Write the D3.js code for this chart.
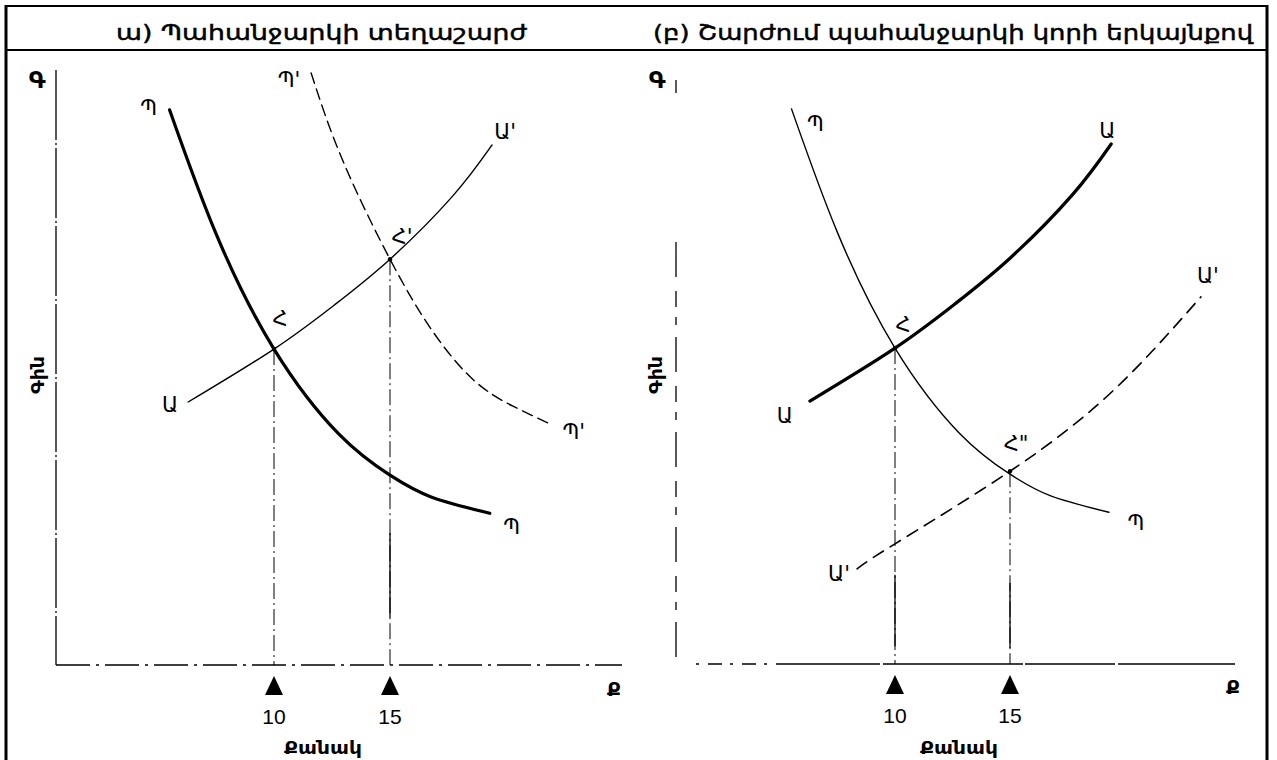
<!DOCTYPE html>
<html>
<head>
<meta charset="utf-8">
<script src="https://cdn.jsdelivr.net/npm/d3@7/dist/d3.min.js"></script>
<style>
  body { margin: 0; background: #fff; }
  svg { display: block; }
  .arm { font-family: "DejaVu Sans", "Noto Sans", sans-serif; fill: #000; }
  .num { font-family: "Liberation Sans Narrow", "Liberation Sans", Arial, sans-serif; fill: #000; }
</style>
</head>
<body>
<div id="chart"></div>
<script>
// values: quantity (x) and price (y, 0..100)
var demandQ  = [5.5, 7.5, 10, 12.8, 15, 16.8, 19.3];
var demandP  = [93.3, 72.5, 53.1, 38.8, 31.9, 28.2, 25.5];
var demand2Q = [11.6, 12.95, 15, 16.8, 18.6, 20.3, 21.8];
var demand2P = [99.5, 84.9, 68.2, 56.3, 47.9, 43.5, 40.7];
var supplyQ  = [6.3, 10, 12.6, 15, 17.7, 19.4];
var supplyP  = [44.2, 53.1, 60.5, 68.2, 78.8, 87.4];
var supply2Q = [8.35, 10, 15, 19.5, 23.3];
var supply2P = [16, 20.2, 32.4, 46, 61.7];

var eqLeftQ  = [10, 15];
var eqLeftP  = [53.1, 68.2];
var eqRightQ = [10, 15];
var eqRightP = [53.1, 32.4];
var eqLeftNames  = ["Հ", "Հ'"];
var eqRightNames = ["Հ", "Հ\""];

var tickValues = [10, 15];
var tickLabels = ["10", "15"];

var titles = ["ա) Պահանջարկի տեղաշարժ", "(բ) Շարժում պահանջարկի կորի երկայնքով"];
var priceLetter = "Գ";
var priceName = "Գին";
var qtyLetter = "Ք";
var qtyName = "Քանակ";

var svgWidth = 1277;
var svgHeight = 760;

var svg = d3.select("#chart").append("svg")
  .attr("width", svgWidth)
  .attr("height", svgHeight);

// outer frame + title bar
var frame = svg.append("g").attr("stroke", "#000").attr("fill", "none");
frame.append("line").attr("x1", 5).attr("x2", 1268).attr("y1", 6).attr("y2", 6).attr("stroke-width", 2);
frame.append("line").attr("x1", 5).attr("x2", 1268).attr("y1", 50).attr("y2", 50).attr("stroke-width", 2);
frame.append("line").attr("x1", 6).attr("x2", 6).attr("y1", 5).attr("y2", svgHeight).attr("stroke-width", 3);
frame.append("line").attr("x1", 1267).attr("x2", 1267).attr("y1", 5).attr("y2", svgHeight).attr("stroke-width", 3);

// panel layouts (pixels)
var panels = [
  {
    title: titles[0], titleX: 116, titleLen: 411,
    xRange: [42, 622], yRange: [665, 70],
    yAxisX: 56, yAxisTop: 70, axisY: 665,
    yDash: "70 3 2 3",
    xSegs: [[56, 622, "34 6 3 6"]],
    letterP: [37, 88], nameP: [38, 375], letterQ: [614, 696], nameQ: [323, 754],
    tickY: 665,
    curves: [
      { q: demandQ, p: demandP, w: 3.2, dash: null, a: "Պ", b: "Պ", da: [-21, 5], db: [22, 21] },
      { q: demand2Q, p: demand2P, w: 1.4, dash: "11 6", a: "Պ'", b: "Պ'", da: [-22, 14], db: [26, 16] },
      { q: supplyQ, p: supplyP, w: 1.4, dash: null, a: "Ա", b: "Ա'", da: [-18, 10], db: [13, -6] }
    ],
    eqQ: eqLeftQ, eqP: eqLeftP, eqNames: eqLeftNames, eqD: [[6, -23], [12, -15]],
    solid: [[15, 22.2, 8]]
  },
  {
    title: titles[1], titleX: 653, titleLen: 600,
    xRange: [665, 1240], yRange: [664, 69],
    yAxisX: 676, yAxisTop: 242, axisY: 664,
    yDash: "35 14 16 10 8 12",
    xSegs: [[696, 790, "3 9 14 8"], [790, 1235, "90 3 140 2"]],
    letterP: [657, 88], nameP: [656, 375], letterQ: [1233, 694], nameQ: [959, 754],
    tickY: 664,
    curves: [
      { q: demandQ, p: demandP, w: 1.4, dash: null, a: "Պ", b: "Պ", da: [24, 22], db: [27, 18] },
      { q: supplyQ, p: supplyP, w: 3.2, dash: null, a: "Ա", b: "Ա", da: [-25, 22], db: [-4, -6] },
      { q: supply2Q, p: supply2P, w: 1.6, dash: "12 8", a: "Ա'", b: "Ա'", da: [-18, 12], db: [7, -14] }
    ],
    eqQ: eqRightQ, eqP: eqRightP, eqNames: eqRightNames, eqD: [[8, -16], [6, -20]],
    solid: [[15, 13.6, 2.7], [10, 15, 3]]
  }
];

panels.forEach(function(pn) {
  var x = d3.scaleLinear().domain([0, 25]).range(pn.xRange);
  var y = d3.scaleLinear().domain([0, 100]).range(pn.yRange);
  var g = svg.append("g");

  // title
  g.append("text").attr("class", "arm")
    .attr("x", pn.titleX).attr("y", 40)
    .attr("font-size", 21)
    .attr("stroke", "#000").attr("stroke-width", 0.45)
    .attr("textLength", pn.titleLen)
    .attr("lengthAdjust", "spacingAndGlyphs")
    .text(pn.title);

  // axes (broken dash-dot look of the scan)
  g.append("line")
    .attr("x1", pn.yAxisX).attr("x2", pn.yAxisX)
    .attr("y1", pn.yAxisTop).attr("y2", pn.axisY)
    .attr("stroke", "#000").attr("stroke-width", 1.3)
    .attr("stroke-dasharray", pn.yDash);
  if (pn.yAxisTop > 100) {
    g.append("line")
      .attr("x1", pn.yAxisX).attr("x2", pn.yAxisX)
      .attr("y1", 80).attr("y2", 93)
      .attr("stroke", "#000").attr("stroke-width", 1.3);
  }
  pn.xSegs.forEach(function(s) {
    g.append("line")
      .attr("x1", s[0]).attr("x2", s[1])
      .attr("y1", pn.axisY).attr("y2", pn.axisY)
      .attr("stroke", "#000").attr("stroke-width", 1.3)
      .attr("stroke-dasharray", s[2]);
  });

  g.append("text").attr("class", "arm").attr("font-size", 23).attr("font-weight", "bold")
    .attr("text-anchor", "middle")
    .attr("x", pn.letterP[0]).attr("y", pn.letterP[1]).text(priceLetter);
  g.append("text").attr("class", "arm").attr("font-size", 18).attr("font-weight", "bold")
    .attr("text-anchor", "middle")
    .attr("transform", "translate(" + (pn.nameP[0] + 6) + "," + pn.nameP[1] + ") rotate(-90)")
    .attr("textLength", 38).attr("lengthAdjust", "spacingAndGlyphs")
    .text(priceName);
  g.append("text").attr("class", "arm").attr("font-size", 20).attr("font-weight", "bold")
    .attr("text-anchor", "middle")
    .attr("x", pn.letterQ[0]).attr("y", pn.letterQ[1]).text(qtyLetter);
  g.append("text").attr("class", "arm").attr("font-size", 17).attr("font-weight", "bold")
    .attr("text-anchor", "middle")
    .attr("x", pn.nameQ[0]).attr("y", pn.nameQ[1])
    .attr("textLength", 78).attr("lengthAdjust", "spacingAndGlyphs")
    .text(qtyName);

  // guide lines from equilibria down to the quantity axis
  var eq = d3.zip(pn.eqQ, pn.eqP);
  g.selectAll(".guide").data(eq).enter().append("line")
    .attr("class", "guide")
    .attr("x1", d => x(d[0])).attr("x2", d => x(d[0]))
    .attr("y1", d => y(d[1])).attr("y2", pn.axisY)
    .attr("stroke", "#000").attr("stroke-width", 1)
    .attr("stroke-dasharray", "16 4 2 4");
  // solid stretches of the guides
  g.selectAll(".solid").data(pn.solid).enter().append("line")
    .attr("class", "solid")
    .attr("x1", d => x(d[0])).attr("x2", d => x(d[0]))
    .attr("y1", d => y(d[1])).attr("y2", d => y(d[2]))
    .attr("stroke", "#000").attr("stroke-width", 1.3);

  // curves
  var line = d3.line()
    .x(d => x(d[0]))
    .y(d => y(d[1]))
    .curve(d3.curveNatural);

  pn.curves.forEach(function(c) {
    var pts = d3.zip(c.q, c.p);
    g.append("path")
      .datum(pts)
      .attr("d", line)
      .attr("fill", "none")
      .attr("stroke", "#000")
      .attr("stroke-width", c.w)
      .attr("stroke-linecap", "round")
      .attr("stroke-dasharray", c.dash);
    var first = pts[0], last = pts[pts.length - 1];
    g.append("text").attr("class", "arm").attr("font-size", 21).attr("text-anchor", "middle")
      .attr("x", x(first[0]) + c.da[0]).attr("y", y(first[1]) + c.da[1]).text(c.a);
    g.append("text").attr("class", "arm").attr("font-size", 21).attr("text-anchor", "middle")
      .attr("x", x(last[0]) + c.db[0]).attr("y", y(last[1]) + c.db[1]).text(c.b);
  });

  // equilibrium dots + names
  g.selectAll(".eq").data(eq).enter().append("circle")
    .attr("class", "eq")
    .attr("cx", d => x(d[0])).attr("cy", d => y(d[1])).attr("r", 2.2)
    .attr("fill", "#000");
  g.selectAll(".eqname").data(eq).enter().append("text")
    .attr("class", "arm eqname").attr("font-size", 21).attr("text-anchor", "middle")
    .attr("x", (d, i) => x(d[0]) + pn.eqD[i][0])
    .attr("y", (d, i) => y(d[1]) + pn.eqD[i][1])
    .text((d, i) => pn.eqNames[i]);

  // tick triangles + labels
  g.selectAll(".tri").data(tickValues).enter().append("path")
    .attr("class", "tri")
    .attr("d", d => "M" + x(d) + "," + (pn.tickY + 11) + "L" + (x(d) - 9) + "," + (pn.tickY + 30) +
      "L" + (x(d) + 9) + "," + (pn.tickY + 30) + "Z")
    .attr("fill", "#000");
  g.selectAll(".tl").data(tickValues).enter().append("text")
    .attr("class", "num").attr("font-size", 21).attr("text-anchor", "middle")
    .attr("x", d => x(d)).attr("y", pn.tickY + 59)
    .text((d, i) => tickLabels[i]);
});
</script>
</body>
</html>
